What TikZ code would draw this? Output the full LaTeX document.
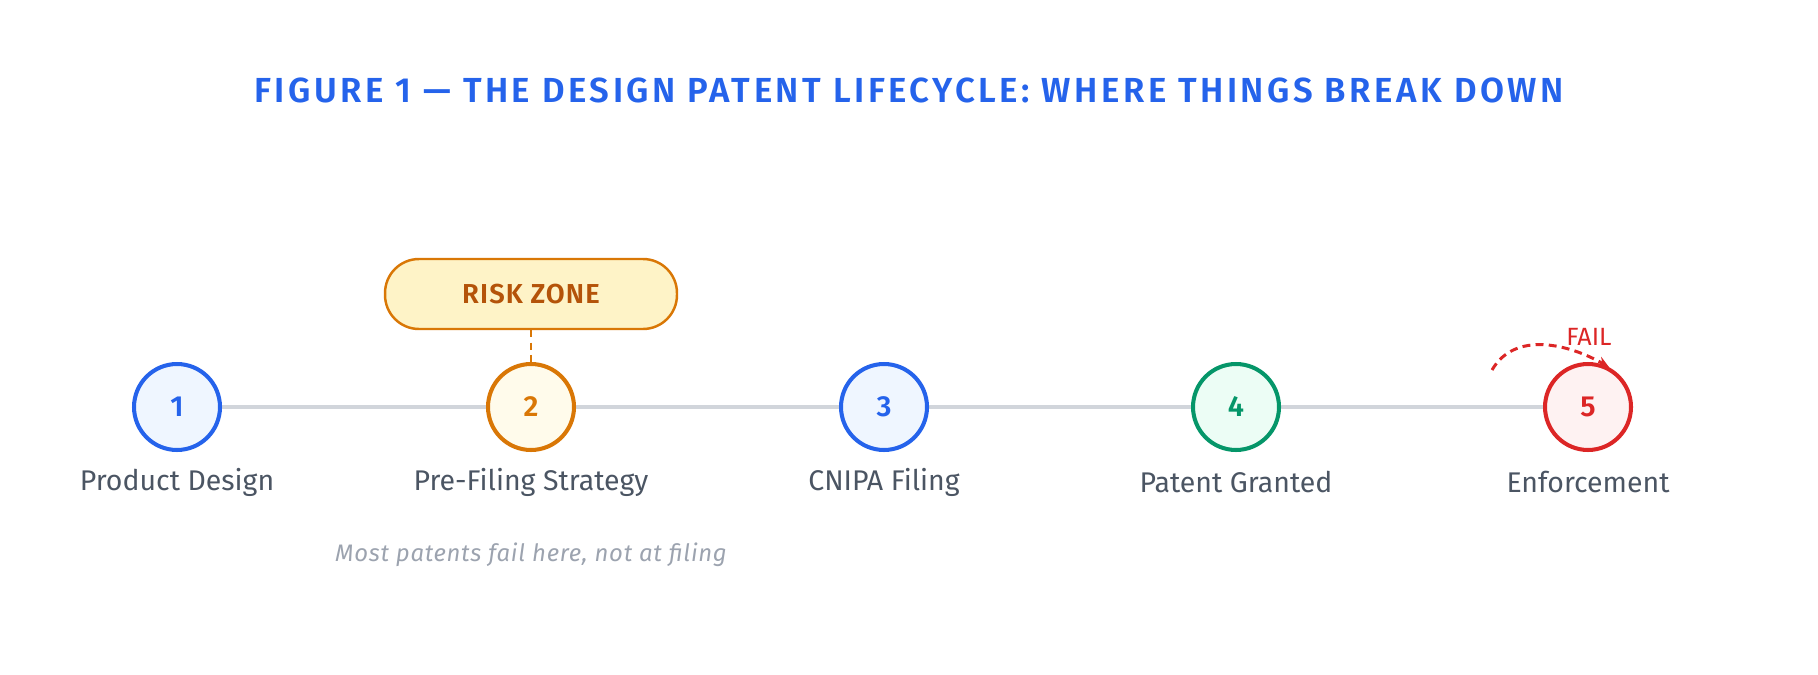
\documentclass[tikz,border=0pt]{standalone}
\usepackage{fontspec}
\setmainfont{Fira Sans}[BoldFont={Fira Sans SemiBold}]
\usepackage{tikz}
\usetikzlibrary{arrows.meta,positioning,backgrounds}
\definecolor{fblue}{RGB}{37,99,235}
\definecolor{fbluel}{RGB}{239,246,255}
\definecolor{forange}{RGB}{217,119,6}
\definecolor{forangel}{RGB}{255,251,235}
\definecolor{fsand}{RGB}{254,243,199}
\definecolor{fbrown}{RGB}{180,83,9}
\definecolor{fgreen}{RGB}{5,150,105}
\definecolor{fgreenl}{RGB}{236,253,245}
\definecolor{fred}{RGB}{220,38,38}
\definecolor{fredl}{RGB}{254,242,242}
\definecolor{ftrack}{RGB}{209,213,219}
\definecolor{ftext}{RGB}{75,85,99}
\definecolor{fnote}{RGB}{156,163,175}
\tikzset{
  stage/.style ={circle, line width=2.3pt, inner sep=0pt, minimum size=1.72cm,
                 font=\fontsize{16.5}{18}\selectfont\bfseries},
  lbl/.style   ={font=\fontsize{16.2}{18}\selectfont, text=ftext},
  track/.style ={draw=ftrack, line width=2.3pt},
  zone/.style  ={rectangle, rounded corners=0.68cm, draw=forange, fill=fsand,
                 line width=1.4pt, minimum width=5.84cm, minimum height=1.4cm,
                 font=\fontsize{15.6}{17}\selectfont\bfseries\addfontfeature{LetterSpace=4},
                 text=fbrown},
  failar/.style={-{Stealth[length=2.4mm,width=2mm]}, draw=fred, line width=1.7pt,
                 dash pattern=on 4.5pt off 3pt}
}
\begin{document}
\begin{tikzpicture}[x=0.02cm, y=0.02cm]
\useasboundingbox (0,0) rectangle (1818,674);

\node[font=\fontsize{19.8}{22}\selectfont\bfseries\addfontfeature{LetterSpace=10}, text=fblue]
  (title) at (909,584) {FIGURE 1 --- THE DESIGN PATENT LIFECYCLE: WHERE THINGS BREAK DOWN};

% the five stages
\node[stage, draw=fblue,   fill=fbluel,   text=fblue]   (c1) at ( 177,267) {1};
\node[stage, draw=forange, fill=forangel, text=forange] (c2) at ( 531,267) {2};
\node[stage, draw=fblue,   fill=fbluel,   text=fblue]   (c3) at ( 884,267) {3};
\node[stage, draw=fgreen,  fill=fgreenl,  text=fgreen]  (c4) at (1236,267) {4};
\node[stage, draw=fred,    fill=fredl,    text=fred]    (c5) at (1588,267) {5};

\begin{scope}[on background layer]
  \draw[track] (c1.center) -- (c5.center);
\end{scope}

\node[lbl] (l1) at ( 177,192) {Product Design};
\node[lbl] (l2) at ( 531,192) {Pre-Filing Strategy};
\node[lbl] (l3) at ( 884,192) {CNIPA Filing};
\node[lbl] (l4) at (1236,192) {Patent Granted};
\node[lbl] (l5) at (1588,192) {Enforcement};

% risk zone over stage 2
\node[zone] (risk) at (531,380) {RISK ZONE};
\draw[draw=forange, line width=1.4pt, dash pattern=on 4pt off 3pt] (risk.south) -- (c2.north);

\node[font=\fontsize{13.6}{16}\selectfont\itshape\addfontfeature{LetterSpace=3}, text=fnote]
  (note) at (531,119) {Most patents fail here, not at filing};

% failure at enforcement
\coordinate (failfrom) at (1492,304);
\draw[failar] (failfrom) to[out=60,in=150] (c5.62);
\node[font=\fontsize{14.2}{16}\selectfont, text=fred] (fail) at (1589,337) {FAIL};
\end{tikzpicture}
\end{document}
